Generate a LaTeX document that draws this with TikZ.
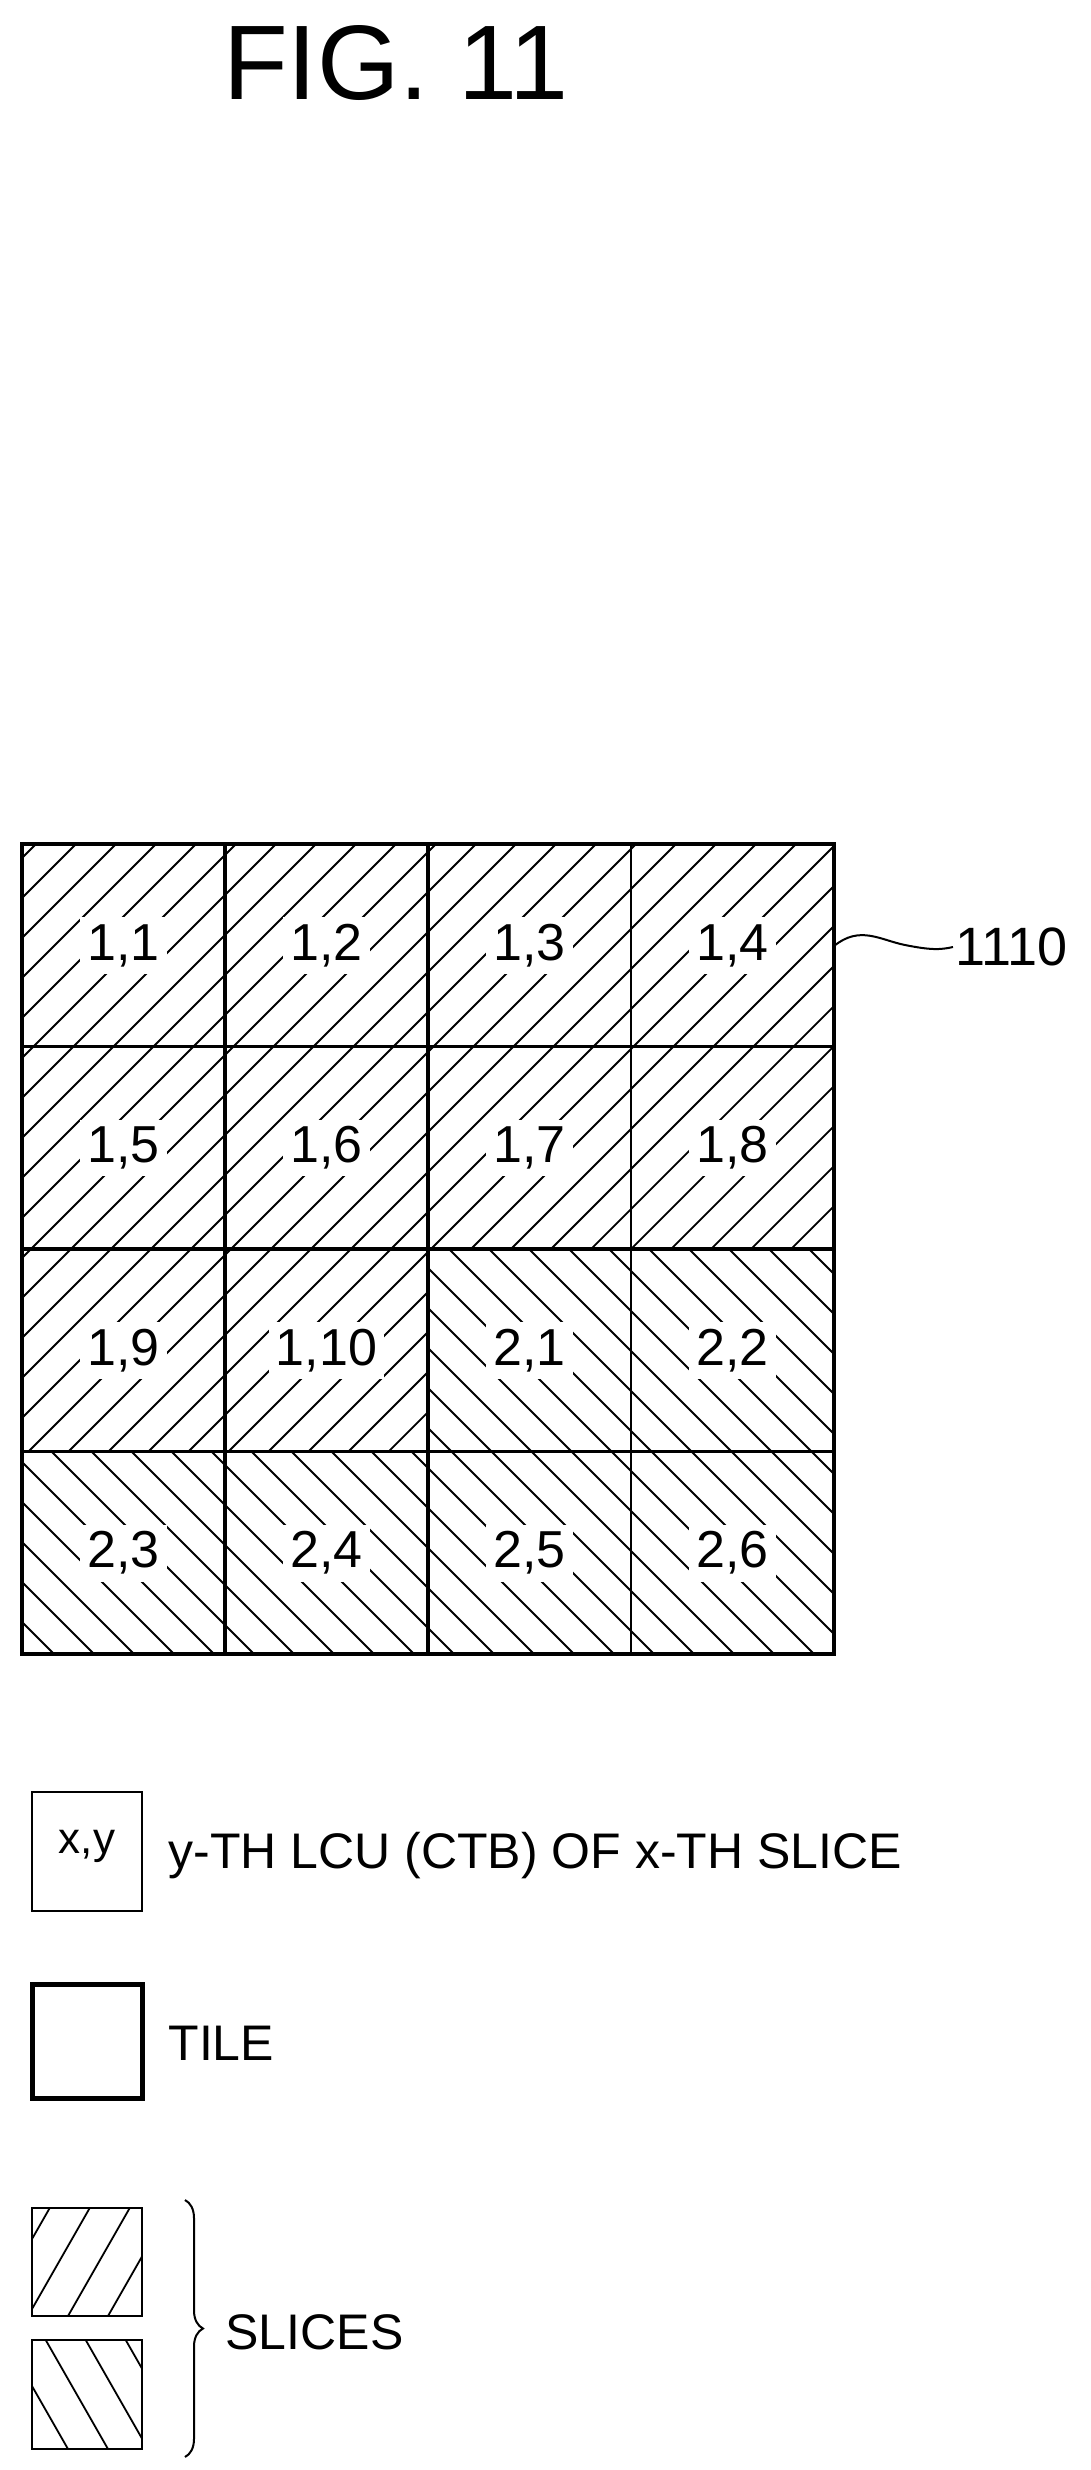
\documentclass[tikz,border=0pt]{standalone}
\usepackage{fontspec}
\setmainfont{Liberation Sans}
\usetikzlibrary{decorations.pathreplacing}
\begin{document}
\begin{tikzpicture}[x=1pt,y=-1pt,
  thin line/.style={line width=2.2pt},
  thick line/.style={line width=4.5pt},
  hatch/.style={line width=1.8pt},
  lbl/.style={fill=white,inner sep=7pt,font=\fontsize{52}{58}\selectfont},
  legtext/.style={anchor=west,font=\fontsize{50}{56}\selectfont}]
\useasboundingbox (0,0) rectangle (1091,2470);
\node[font=\fontsize{106}{120}\selectfont] (title) at (396,63) {FIG. 11};
% slice 1 hatch
\begin{scope}
\clip (22,844) -- (834,844) -- (834,1249) -- (428,1249) -- (428,1452) -- (22,1452) -- cycle;
\foreach \i in {-1000,-960,...,1000} \draw[hatch] (\i,1480) -- ++(1100,-1100);
\end{scope}
% slice 2 hatch
\begin{scope}
\clip (428,1249) -- (834,1249) -- (834,1654) -- (22,1654) -- (22,1452) -- (428,1452) -- cycle;
\foreach \i in {-1000,-960,...,1000} \draw[hatch] (\i,1200) -- ++(1100,1100);
\end{scope}
% labels
\foreach \r/\c/\t in {0/0/{1,1},0/1/{1,2},0/2/{1,3},0/3/{1,4},
  1/0/{1,5},1/1/{1,6},1/2/{1,7},1/3/{1,8},
  2/0/{1,9},2/1/{1,10},2/2/{2,1},2/3/{2,2},
  3/0/{2,3},3/1/{2,4},3/2/{2,5},3/3/{2,6}}
  \node[lbl] (c\r\c) at ({22+203*\c+101.5},{844+202.5*\r+101.5}) {\t};
% grid lines
\draw[thin line] (22,1046.5) -- (834,1046.5);
\draw[thin line] (22,1451.5) -- (834,1451.5);
\draw[thin line] (631,844) -- (631,1654);
\draw[thick line] (22,1249) -- (834,1249);
\draw[thick line] (225,844) -- (225,1654);
\draw[thick line] (428,844) -- (428,1654);
\draw[thick line] (22,844) rectangle (834,1654);
\coordinate (grid) at (834,946);
\node[anchor=west,font=\fontsize{54}{60}\selectfont,inner sep=2pt] (ref) at (953,947) {1110};
\draw[line width=2pt] (grid) .. controls (860,925) and (880,940) .. (905,945) .. controls (930,950) and (940,950) .. (ref.west);
% legend
\draw[line width=2.5pt] (32,1792) rectangle (142,1911);
\node[font=\fontsize{44}{50}\selectfont] (xy) at (87,1846) {x,y};
\node[legtext] (t1) at (165,1856) {y-TH LCU (CTB) OF x-TH SLICE};
\draw[line width=5pt] (32,1984) rectangle (142,2098);
\node[legtext] (t2) at (165,2043) {TILE};
\begin{scope}
\clip (32,2208) rectangle (142,2316);
\foreach \i in {-60,-20,...,200} \draw[hatch] (\i,2330) -- ++(80,-140);
\end{scope}
\draw[line width=2.5pt] (32,2208) rectangle (142,2316);
\begin{scope}
\clip (32,2340) rectangle (142,2449);
\foreach \i in {-80,-40,...,200} \draw[hatch] (\i,2330) -- ++(80,140);
\end{scope}
\draw[line width=2.5pt] (32,2340) rectangle (142,2449);
\draw[line width=2pt,decorate,decoration={brace,amplitude=18pt}] (185,2200) -- (185,2457);
\coordinate (tip) at (206,2328);
\node[legtext] (t3) at (222,2332) {SLICES};
\end{tikzpicture}
\end{document}
